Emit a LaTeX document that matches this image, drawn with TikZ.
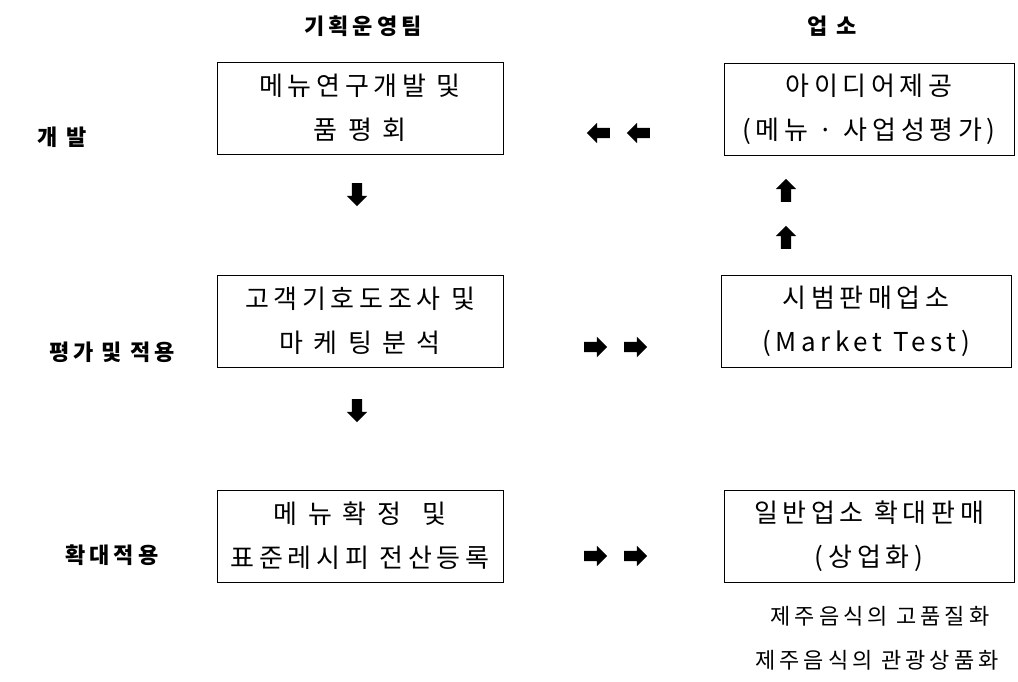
\documentclass[tikz,border=0pt]{standalone}
\usepackage{fontspec}
\setmainfont{Noto Sans CJK KR}[LetterSpace=18]
\usetikzlibrary{shapes.arrows}
\begin{document}
\begin{tikzpicture}[x=1pt,y=-1pt,
  box/.style={draw, line width=0.9pt, minimum width=286pt, minimum height=92pt,
    align=center, inner sep=0pt, font=\fontsize{26}{44}\selectfont},
  head/.style={font=\bfseries\fontsize{22}{26}\selectfont, inner sep=0pt},
  note/.style={font=\fontsize{22}{26}\selectfont, inner sep=0pt},
  blk/.style={single arrow, fill=black, inner sep=0pt, single arrow head extend=5pt,
    minimum height=23pt, single arrow tip angle=90},
]
\useasboundingbox (0,0) rectangle (1018,681);
\fill[white] (0,0) rectangle (1018,681);

% headers
\node[head] (h1) at (363,26) {기획운영팀};
\node[head] (h2) at (832,26) {업 소};

% row labels
\node[head] (r1) at (62,137) {개 발};
\node[head] (r2) at (112,352) {평가\hspace{8pt}및\hspace{8pt}적용};
\node[head] (r3) at (112,555) {확대적용};

% left boxes
\node[box] (L1) at (360,108) {메뉴연구개발 및\\품 평 회};
\node[box] (L2) at (360,321) {고객기호도조사 및\\마 케 팅 분 석};
\node[box] (L3) at (360,536) {메 뉴 확 정 \ 및\\표준레시피 전산등록};

% right boxes
\node[box, minimum width=290pt] (R1) at (869,109) {아이디어제공\\(메뉴 · 사업성평가)};
\node[box, minimum width=290pt] (R2) at (866,321) {시범판매업소\\(Market Test)};
\node[box, minimum width=290pt] (R3) at (869,536) {일반업소 확대판매\\(상업화)};

% block arrows
\node[blk, rotate=180] (a1) at (601,133) {\rule{0pt}{10pt}};
\node[blk, rotate=180] (a2) at (641,133) {\rule{0pt}{10pt}};
\node[blk, rotate=-90] (d1) at (357,192) {\rule{0pt}{10pt}};
\node[blk, rotate=90] (u1) at (786,193) {\rule{0pt}{10pt}};
\node[blk, rotate=90] (u2) at (786,240) {\rule{0pt}{10pt}};
\node[blk] (b1) at (593,347) {\rule{0pt}{10pt}};
\node[blk] (b2) at (633,347) {\rule{0pt}{10pt}};
\node[blk, rotate=-90] (d2) at (357,408) {\rule{0pt}{10pt}};
\node[blk] (c1) at (593,556) {\rule{0pt}{10pt}};
\node[blk] (c2) at (633,556) {\rule{0pt}{10pt}};

% notes
\node[note] (n1) at (880,616) {제주음식의 고품질화};
\node[note] (n2) at (877,660) {제주음식의 관광상품화};
\end{tikzpicture}
\end{document}
